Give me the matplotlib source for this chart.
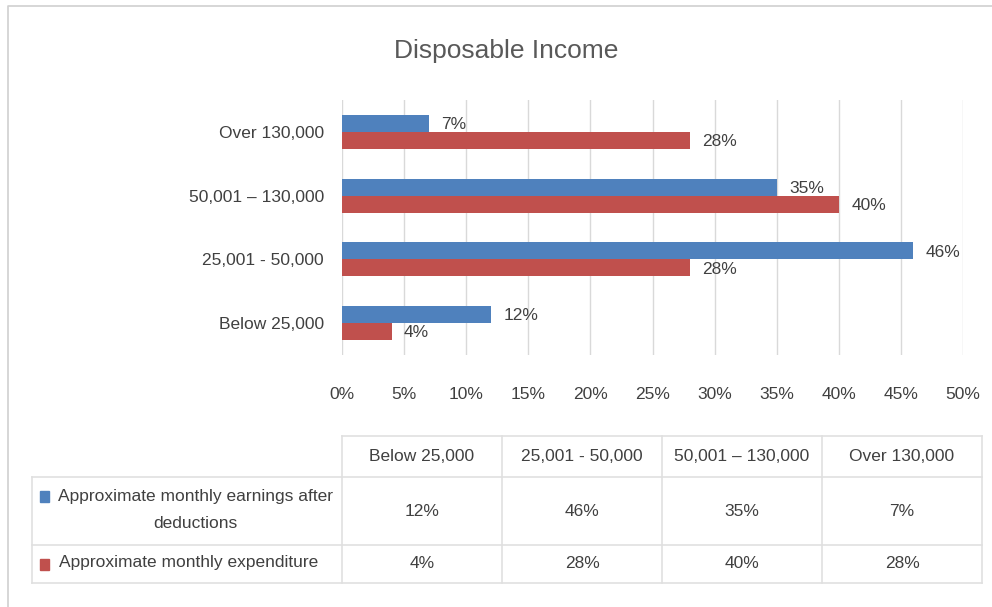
import numpy as np
import matplotlib.pyplot as plt

plt.rcParams['font.family'] = ['Liberation Sans', 'DejaVu Sans']

categories = ["Below 25,000", "25,001 - 50,000", "50,001 \u2013 130,000", "Over 130,000"]
earnings = [12, 46, 35, 7]
expenditure = [4, 28, 40, 28]
series_names = ["Approximate monthly earnings after\ndeductions", "Approximate monthly expenditure"]
xticks = [0, 5, 10, 15, 20, 25, 30, 35, 40, 45, 50]

blue = "#4F81BD"
red = "#C0504D"
txt = "#404040"
grid = "#D9D9D9"
fs = 12.5

W, H = 992, 607
fig = plt.figure(figsize=(W / 100, H / 100), dpi=100)

# bar chart area
ax = fig.add_axes([342 / W, 1 - 355 / H, 621 / W, 255 / H])
y = np.arange(len(categories))
h = 0.265
ax.barh(y + h / 2, earnings, height=h, color=blue, zorder=3)
ax.barh(y - h / 2, expenditure, height=h, color=red, zorder=3)

for yi, v in zip(y, earnings):
    ax.text(v + 1.0, yi + h / 2 - 0.02, f"{v}%", va="center", ha="left", fontsize=fs, color=txt, zorder=4)
for yi, v in zip(y, expenditure):
    ax.text(v + 1.0, yi - h / 2 - 0.02, f"{v}%", va="center", ha="left", fontsize=fs, color=txt, zorder=4)

ax.set_xlim(0, 50)
ax.set_ylim(-0.5, len(categories) - 0.5)
ax.set_xticks(xticks)
ax.set_xticklabels([f"{t}%" for t in xticks])
ax.set_yticks(y)
ax.set_yticklabels(categories)
ax.tick_params(axis="x", length=0, pad=23, labelsize=fs, labelcolor=txt)
ax.tick_params(axis="y", length=0, pad=13, labelsize=fs, labelcolor=txt)
ax.grid(axis="x", color=grid, linewidth=1, zorder=0)
for s in ax.spines.values():
    s.set_visible(False)

fig.text(506 / W, 1 - 51 / H, "Disposable Income", ha="center", va="center", fontsize=19, color="#595959")

# data table and frame drawn in pixel space
tab = fig.add_axes([0, 0, 1, 1])
tab.set_xlim(0, W)
tab.set_ylim(H, 0)
tab.axis("off")
tab.patch.set_alpha(0)

tab.plot([8, 8, W], [H, 6, 6], color="#D0D0D0", lw=1.2)

col_x = [342, 502, 662, 822, 982]
row_y = [436, 477, 545, 583]
lc = "#E0E0E0"
tab.plot([col_x[0], col_x[-1]], [row_y[0], row_y[0]], color=lc, lw=1.2)
for ry in row_y[1:]:
    tab.plot([32, col_x[-1]], [ry, ry], color=lc, lw=1.2)
tab.plot([32, 32], [row_y[1], row_y[-1]], color=lc, lw=1.2)
for cx in col_x:
    tab.plot([cx, cx], [row_y[0], row_y[-1]], color=lc, lw=1.2)

for i, c in enumerate(categories):
    tab.text((col_x[i] + col_x[i + 1]) / 2, (row_y[0] + row_y[1]) / 2, c,
             ha="center", va="center", fontsize=fs, color=txt)

rows = [earnings, expenditure]
colors = [blue, red]
label_x = [195, 189]
for r, (vals, name, col) in enumerate(zip(rows, series_names, colors)):
    yc = (row_y[r + 1] + row_y[r + 2]) / 2
    for i, v in enumerate(vals):
        tab.text((col_x[i] + col_x[i + 1]) / 2, yc, f"{v}%", ha="center", va="center", fontsize=fs, color=txt)
    ty = yc - 15 if r == 0 else yc
    tab.add_patch(plt.Rectangle((40, ty - 5.5), 9, 11, color=col))
    tab.text(label_x[r], yc - 1, name, ha="center", va="center", fontsize=fs, color=txt, linespacing=1.95)

fig.savefig("out.png", dpi=100)
